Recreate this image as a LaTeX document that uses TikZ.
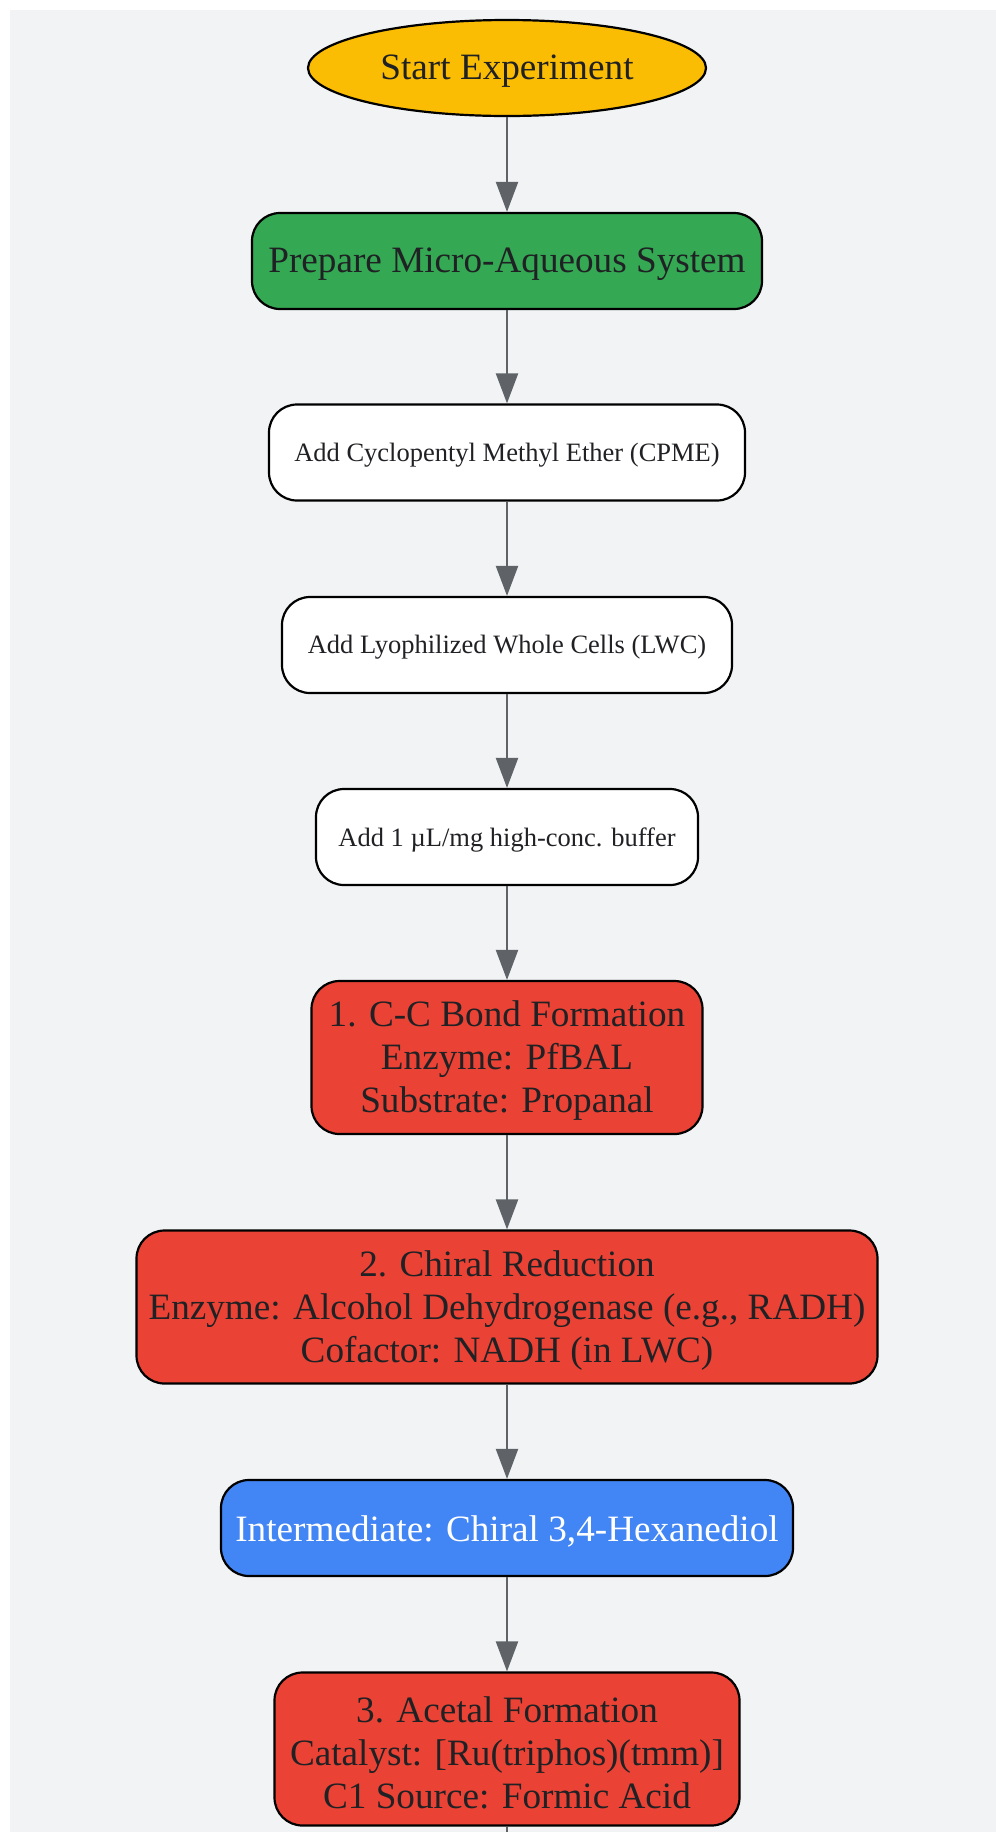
\documentclass[tikz,border=0pt]{standalone}
\usepackage{fontspec}
\setmainfont{Liberation Serif}
\usetikzlibrary{shapes.geometric,arrows.meta}
\definecolor{bgc}{HTML}{F1F3F4}
\definecolor{txt}{HTML}{202124}
\definecolor{arr}{HTML}{5F6368}
\definecolor{gyellow}{HTML}{FBBC04}
\definecolor{ggreen}{HTML}{34A853}
\definecolor{gred}{HTML}{EA4335}
\definecolor{gblue}{HTML}{4285F4}
\tikzset{
  base/.style={draw=black, line width=1.1pt, inner sep=0pt},
  boxn/.style={base, rectangle, rounded corners=14pt, minimum height=48pt},
  tallbox/.style={base, rectangle, rounded corners=14pt, minimum height=76.5pt},
  lbl/.style={text=txt, align=center, inner sep=0pt},
  bigfont/.style={lbl, font=\fontsize{18.6}{21.5}\selectfont},
  smallfont/.style={lbl, font=\fontsize{13.25}{16}\selectfont},
  conn/.style={draw=arr, line width=1.1pt, -{Triangle[length=15pt,width=11pt]}},
}
\begin{document}
\begin{tikzpicture}[x=0.5pt,y=-0.5pt]
\fill[white] (0,0) rectangle (996,1832);
\fill[bgc] (10,10) rectangle (996,1832);
\useasboundingbox (0,0) rectangle (996,1832);

\node[base, ellipse, fill=gyellow, minimum width=199pt, minimum height=48pt] (start) at (507,68) {};
\node[boxn, fill=ggreen, minimum width=255pt] (prep) at (507,261) {};
\node[boxn, fill=white, minimum width=238pt] (cpme) at (507,452.5) {};
\node[boxn, fill=white, minimum width=225pt] (lwc) at (507,645) {};
\node[boxn, fill=white, minimum width=191pt] (buf) at (507,837) {};
\node[tallbox, fill=gred, minimum width=195.5pt] (s1) at (507,1057.5) {};
\node[tallbox, fill=gred, minimum width=370.5pt] (s2) at (507,1307) {};
\node[boxn, fill=gblue, minimum width=286pt] (inter) at (507,1528) {};
\node[tallbox, fill=gred, minimum width=232.5pt] (s3) at (507,1749) {};
\coordinate (cont) at (507,1832);

\node[bigfont] (startt) at ([yshift=-1.75pt]start.center) {Start Experiment};
\node[bigfont] (prept) at ([yshift=-1.75pt]prep.center) {Prepare Micro-Aqueous System};
\node[smallfont] (cpmet) at ([yshift=-1.3pt]cpme.center) {Add Cyclopentyl Methyl Ether (CPME)};
\node[smallfont] (lwct) at ([yshift=-1.3pt]lwc.center) {Add Lyophilized Whole Cells (LWC)};
\node[smallfont] (buft) at ([yshift=-1.3pt]buf.center) {Add 1 µL/mg high-conc. buffer};
\node[bigfont] (s1t) at ([yshift=-1.75pt]s1.center) {1. C-C Bond Formation\\Enzyme: PfBAL\\Substrate: Propanal};
\node[bigfont] (s2t) at ([yshift=-1.75pt]s2.center) {2. Chiral Reduction\\Enzyme: Alcohol Dehydrogenase (e.g., RADH)\\Cofactor: NADH (in LWC)};
\node[bigfont, text=white] (intert) at ([yshift=-1.75pt]inter.center) {Intermediate: Chiral 3,4-Hexanediol};
\node[bigfont] (s3t) at ([yshift=-1.75pt]s3.center) {3. Acetal Formation\\Catalyst: [Ru(triphos)(tmm)]\\C1 Source: Formic Acid};

\draw[conn] (start) -- (prep);
\draw[conn] (prep) -- (cpme);
\draw[conn] (cpme) -- (lwc);
\draw[conn] (lwc) -- (buf);
\draw[conn] (buf) -- (s1);
\draw[conn] (s1) -- (s2);
\draw[conn] (s2) -- (inter);
\draw[conn] (inter) -- (s3);
\draw[draw=arr, line width=1.1pt] (s3) -- (cont);
\end{tikzpicture}
\end{document}
